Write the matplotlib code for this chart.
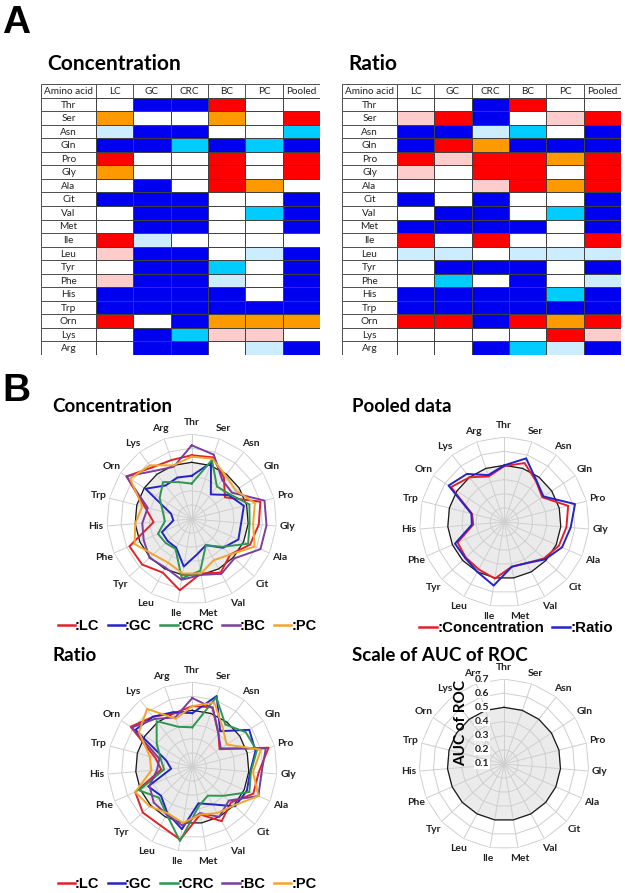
import numpy as np
import matplotlib
matplotlib.use('Agg')
import matplotlib.pyplot as plt
from matplotlib.patches import Rectangle
from matplotlib.transforms import offset_copy

W, H = 625, 893
fig = plt.figure(figsize=(W / 100, H / 100), dpi=100)
fig.patch.set_facecolor('white')

amino = ['Thr', 'Ser', 'Asn', 'Gln', 'Pro', 'Gly', 'Ala', 'Cit', 'Val', 'Met',
         'Ile', 'Leu', 'Tyr', 'Phe', 'His', 'Trp', 'Orn', 'Lys', 'Arg']
groups = ['LC', 'GC', 'CRC', 'BC', 'PC']
table_cols = ['LC', 'GC', 'CRC', 'BC', 'PC', 'Pooled']

# Table colour codes: B blue, C cyan, L light blue, R red, P pink, O orange, W white
conc_table = ['WBBRWW', 'OWWOWR', 'LBBWWC', 'BBCBCB', 'RWWRWR', 'OWWRWR',
              'WBWROW', 'BBBWWB', 'WBBWCB', 'WBBWWB', 'RLWWWW', 'PBBWLB',
              'WBBCWB', 'PBBLWB', 'BBBBWB', 'BBBBBB', 'RWBOOO', 'WBCPPW',
              'WBBWLB']
ratio_table = ['WWBRWW', 'PRBWPR', 'BBLCWB', 'BROBBB', 'RPRROR', 'PWRRWR',
               'WWPROR', 'BWBWWB', 'WBBWCB', 'BBBBWB', 'RWRWWR', 'LLWLLL',
               'WBBBWB', 'WCWBWL', 'BBBBCB', 'BBBBBB', 'RRBROR', 'WWWWRP',
               'WWBCLB']

# AUC of ROC, concentration
conc_LC = [0.55, 0.56, 0.47, 0.38, 0.60, 0.575, 0.55, 0.47, 0.53, 0.49, 0.61, 0.53, 0.575, 0.58, 0.37, 0.44, 0.65, 0.56, 0.54]
conc_GC = [0.405, 0.52, 0.32, 0.41, 0.48, 0.45, 0.46, 0.40, 0.31, 0.35, 0.44, 0.33, 0.33, 0.33, 0.23, 0.25, 0.49, 0.40, 0.41]
conc_CRC = [0.35, 0.54, 0.39, 0.42, 0.52, 0.51, 0.535, 0.39, 0.31, 0.47, 0.525, 0.34, 0.35, 0.36, 0.29, 0.31, 0.37, 0.43, 0.375]
conc_BC = [0.62, 0.58, 0.45, 0.44, 0.63, 0.63, 0.63, 0.51, 0.54, 0.50, 0.535, 0.49, 0.505, 0.47, 0.45, 0.42, 0.65, 0.53, 0.49]
conc_PC = [0.54, 0.55, 0.49, 0.47, 0.56, 0.535, 0.585, 0.47, 0.43, 0.49, 0.49, 0.45, 0.47, 0.54, 0.50, 0.46, 0.62, 0.58, 0.50]

# AUC of ROC, ratio
ratio_LC = [0.53, 0.545, 0.40, 0.33, 0.655, 0.57, 0.57, 0.47, 0.535, 0.44, 0.62, 0.57, 0.575, 0.54, 0.32, 0.37, 0.62, 0.55, 0.50]
ratio_GC = [0.48, 0.63, 0.42, 0.58, 0.56, 0.51, 0.52, 0.51, 0.40, 0.36, 0.545, 0.47, 0.40, 0.44, 0.25, 0.29, 0.58, 0.55, 0.51]
ratio_CRC = [0.38, 0.62, 0.48, 0.55, 0.57, 0.515, 0.54, 0.40, 0.33, 0.38, 0.63, 0.48, 0.42, 0.51, 0.30, 0.33, 0.40, 0.51, 0.40]
ratio_BC = [0.587, 0.54, 0.40, 0.34, 0.635, 0.59, 0.61, 0.45, 0.50, 0.43, 0.52, 0.48, 0.47, 0.43, 0.35, 0.34, 0.61, 0.53, 0.47]
ratio_PC = [0.53, 0.58, 0.45, 0.39, 0.60, 0.53, 0.61, 0.50, 0.47, 0.44, 0.50, 0.47, 0.51, 0.54, 0.39, 0.41, 0.55, 0.62, 0.46]

# Pooled data
pooled_conc = [0.495, 0.54, 0.465, 0.42, 0.565, 0.54, 0.52, 0.48, 0.43, 0.42, 0.505, 0.48, 0.47, 0.46, 0.32, 0.335, 0.55, 0.50, 0.44]
pooled_ratio = [0.50, 0.575, 0.47, 0.43, 0.615, 0.57, 0.545, 0.49, 0.43, 0.42, 0.555, 0.50, 0.475, 0.48, 0.33, 0.34, 0.57, 0.53, 0.45]

reference_auc = 0.5
r_ticks = [0.1, 0.2, 0.3, 0.4, 0.5, 0.6, 0.7]

cell_colors = {'B': '#0000F0', 'C': '#00CCFF', 'L': '#CCECFF', 'R': '#FF0000',
               'P': '#FFCCCC', 'O': '#FF9900', 'W': '#FFFFFF'}
series_colors = {'LC': '#E0222A', 'GC': '#2424C8', 'CRC': '#2E9650', 'BC': '#7A3E9E', 'PC': '#F2A52C'}

CAL = ['Lato', 'DejaVu Sans']
ARI = ['Liberation Sans', 'DejaVu Sans']


def px_rect(x0, y0, x1, y1):
    return [x0 / W, 1 - y1 / H, (x1 - x0) / W, (y1 - y0) / H]


def ftext(x, y, s, **kw):
    fig.text(x / W, 1 - y / H, s, **kw)


# ---------- Panel A: tables ----------
def draw_table(rect, codes):
    ax = fig.add_axes(rect)
    widths = [1.47] + [1.0] * len(table_cols)
    edges = np.concatenate([[0], np.cumsum(widths)])
    nrows = len(amino) + 1
    ax.set_xlim(0, edges[-1])
    ax.set_ylim(nrows, 0)
    ax.axis('off')
    headers = ['Amino acid'] + table_cols
    for j, h in enumerate(headers):
        ax.add_patch(Rectangle((edges[j], 0), widths[j], 1, facecolor='white',
                               edgecolor='#505050', lw=0.7))
        ax.text((edges[j] + edges[j + 1]) / 2, 0.55, h, ha='center', va='center',
                fontsize=7.2, family=CAL, color='#222222')
    for i, aa in enumerate(amino):
        ax.add_patch(Rectangle((0, i + 1), widths[0], 1, facecolor='white',
                               edgecolor='#505050', lw=0.7))
        ax.text(widths[0] / 2, i + 1.55, aa, ha='center', va='center',
                fontsize=7.2, family=CAL, color='#222222')
        for j, c in enumerate(codes[i]):
            ax.add_patch(Rectangle((edges[j + 1], i + 1), 1, 1,
                                   facecolor=cell_colors[c], edgecolor='#404040', lw=0.7))
    return ax


draw_table(px_rect(41, 84, 320, 355), conc_table)
draw_table(px_rect(342, 84, 621, 355), ratio_table)

ftext(2, 33, 'A', fontsize=28, fontweight='bold', family=ARI, va='baseline')
ftext(47, 70, 'Concentration', fontsize=15, fontweight='bold', family=CAL, va='baseline')
ftext(348, 70, 'Ratio', fontsize=15, fontweight='bold', family=CAL, va='baseline')
ftext(2, 401, 'B', fontsize=28, fontweight='bold', family=ARI, va='baseline')

# ---------- Panel B: radar charts ----------
theta = np.arange(len(amino)) * 2 * np.pi / len(amino)
theta_c = np.append(theta, theta[0])


def close(v):
    return np.append(v, v[0])


def radar(cx, cy, R, series):
    ax = fig.add_axes(px_rect(cx - R, cy - R, cx + R, cy + R), projection='polar')
    ax.set_theta_offset(np.pi / 2)
    ax.set_theta_direction(-1)
    ax.set_ylim(r_ticks[0], r_ticks[-1])
    ax.grid(False)
    ax.spines['polar'].set_visible(False)
    ax.set_yticks([])
    ax.patch.set_alpha(0)
    for r in r_ticks[1:]:
        ax.plot(theta_c, [r] * len(theta_c), color='#CFCFCF', lw=0.7, zorder=1)
    for t in theta:
        ax.plot([t, t], [r_ticks[0], r_ticks[-1]], color='#CFCFCF', lw=0.7, zorder=1)
    ax.fill(theta_c, [reference_auc] * len(theta_c), color='#EBEBEB', zorder=0.5)
    ax.plot(theta_c, [reference_auc] * len(theta_c), color='#1A1A1A', lw=0.9, zorder=2)
    for vals, col in series:
        ax.plot(theta_c, close(vals), color=col, lw=1.4, zorder=3)
    ax.set_xticks(theta)
    ax.set_xticklabels(amino, fontsize=7.5, fontweight='bold', family=CAL, color='#222222')
    ax.tick_params(axis='x', pad=-2.5)
    return ax


conc_series = [conc_LC, conc_GC, conc_CRC, conc_BC, conc_PC]
ratio_series = [ratio_LC, ratio_GC, ratio_CRC, ratio_BC, ratio_PC]

ax1 = radar(191.7, 519, 85, [(v, series_colors[g]) for v, g in zip(conc_series, groups)])
ax2 = radar(504.3, 522, 85, [(pooled_conc, '#E0222A'), (pooled_ratio, '#2424C8')])
ax3 = radar(192.3, 767, 85, [(v, series_colors[g]) for v, g in zip(ratio_series, groups)])
ax4 = radar(504, 764, 85, [])

# radial value labels on the scale chart
tr = offset_copy(ax4.transData, fig=fig, x=-22, y=0, units='dots')
for r in r_ticks:
    ax4.text(0, r, '%.1f' % r, transform=tr, ha='center', va='center', fontsize=7.5,
             fontweight='bold', family=CAL, color='#222222', zorder=5,
             bbox=dict(facecolor='white', edgecolor='none', pad=0.3))
ftext(461, 723, 'AUC of ROC', fontsize=11, fontweight='bold', family=CAL,
      rotation=90, ha='center', va='center')

ftext(52, 412, 'Concentration', fontsize=13.5, fontweight='bold', family=CAL, va='baseline')
ftext(352, 412, 'Pooled data', fontsize=13.5, fontweight='bold', family=CAL, va='baseline')
ftext(52, 661, 'Ratio', fontsize=13.5, fontweight='bold', family=CAL, va='baseline')
ftext(352, 661, 'Scale of AUC of ROC', fontsize=13.5, fontweight='bold', family=CAL, va='baseline')


def legend_row(handles_labels, cx, cy, size):
    hs = [plt.Line2D([], [], color=c, lw=1.8) for c, _ in handles_labels]
    ls = [':' + l for _, l in handles_labels]
    fig.legend(hs, ls, loc='center', bbox_to_anchor=(cx / W, 1 - cy / H),
               ncol=len(hs), frameon=False, handlelength=1.2, handletextpad=0.0,
               columnspacing=0.55, prop=dict(family=ARI, weight='bold', size=size),
               borderpad=0, borderaxespad=0)


legend_row([(series_colors[g], g) for g in groups], 187, 626, 10.5)
legend_row([('#E0222A', 'Concentration'), ('#2424C8', 'Ratio')], 516, 628, 10.8)
legend_row([(series_colors[g], g) for g in groups], 187, 884, 10.5)

fig.savefig('out.png', dpi=100, facecolor='white')
